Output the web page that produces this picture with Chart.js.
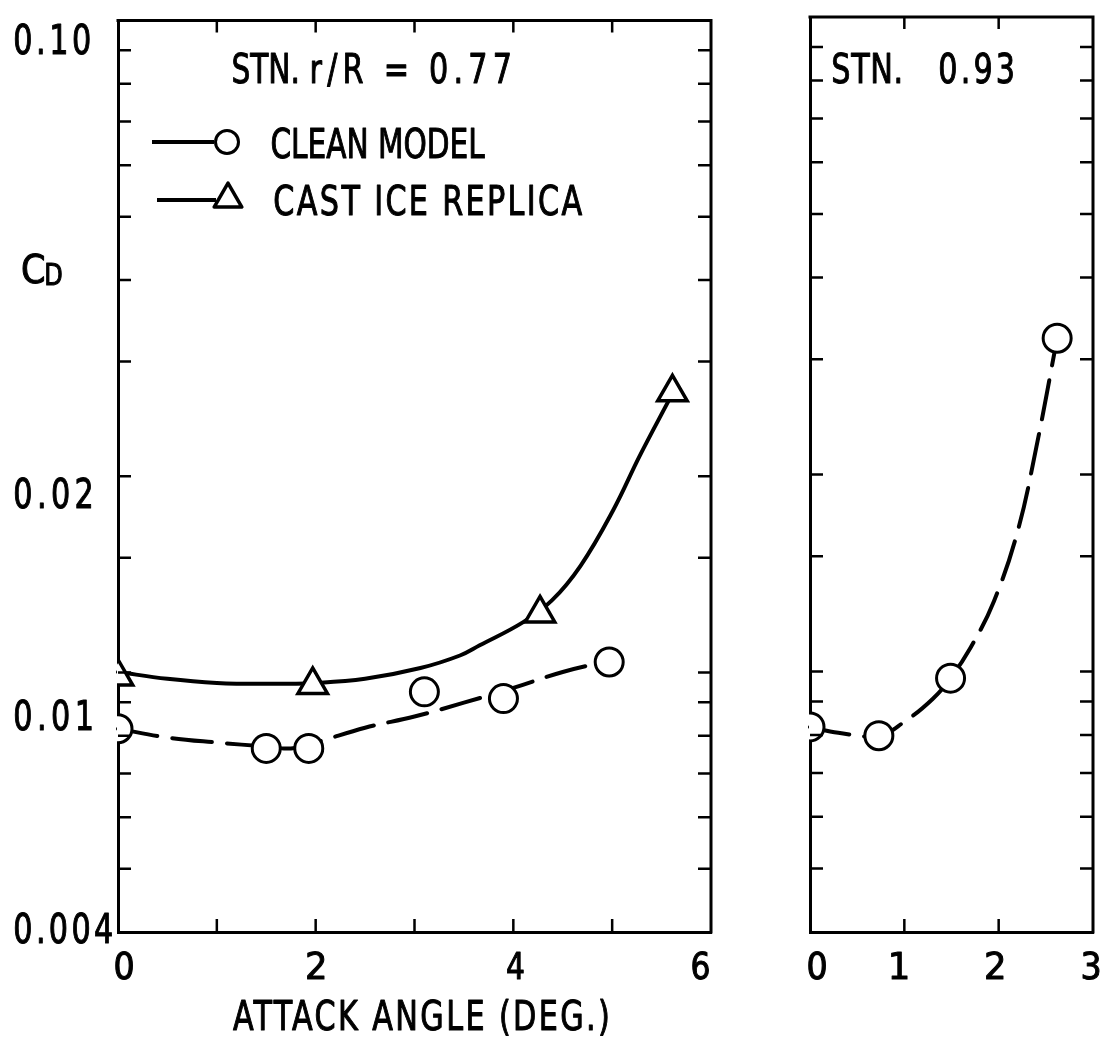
<!DOCTYPE html>
<html>
<head>
<meta charset="utf-8">
<script src="https://cdn.jsdelivr.net/npm/chart.js@4.4.1/dist/chart.umd.min.js"></script>
<style>
  html, body { margin: 0; padding: 0; background: #fff; }
  #wrap { position: relative; width: 1110px; height: 1038px; overflow: hidden; background: #fff; }
  canvas { position: absolute; top: 0; }
  #c77 { left: 0; }
  #c93 { left: 760px; }
</style>
</head>
<body>
<div id="wrap">
  <canvas id="c77" width="760" height="1038"></canvas>
  <canvas id="c93" width="350" height="1038"></canvas>
</div>
<script>
// ---------------- data ----------------
const yTickValues = [0.10, 0.02, 0.01, 0.004];
const yTickLabels = ['0.10', '0.02', '0.01', '0.004'];
const xTickValues77 = [0, 2, 4, 6];
const xTickLabels77 = ['0', '2', '4', '6'];
const xTickValues93 = [0, 1, 2, 3];
const xTickLabels93 = ['0', '1', '2', '3'];

// station r/R = 0.77 : measured points
const angleClean77 = [0, 1.5, 1.93, 3.1, 3.9, 4.97];
const cdClean77    = [0.0082, 0.00765, 0.00765, 0.00934, 0.00912, 0.01038];
const angleIce77   = [0, 1.97, 4.27, 5.61];
const cdIce77      = [0.00986, 0.00957, 0.01232, 0.0269];
// station r/R = 0.77 : faired curves drawn through the points
const fairAngleClean77 = [0, 0.5, 1.0, 1.5, 1.75, 2.0, 2.5, 3.0, 3.5, 4.0, 4.5, 4.97];
const fairCdClean77    = [0.0082, 0.00795, 0.00781, 0.0077, 0.00765, 0.00781, 0.00823, 0.00856, 0.00899, 0.00947, 0.01002, 0.01042];
const fairAngleIce77   = [0, 0.5, 1.0, 1.5, 2.0, 2.5, 3.06, 3.46, 3.66, 4.1, 4.39, 4.68, 5.01, 5.28, 5.58];
const fairCdIce77      = [0.01002, 0.00978, 0.00964, 0.00961, 0.00964, 0.00978, 0.01016, 0.01062, 0.01101, 0.01195, 0.0129, 0.01458, 0.01774, 0.02151, 0.02626];

// station 0.93 : measured points and faired curve
const angleClean93 = [0, 0.73, 1.49, 2.62];
const cdClean93    = [0.00823, 0.00798, 0.00977, 0.0323];
const fairAngle93  = [0, 0.3, 0.73, 1.0, 1.3, 1.49, 1.7, 1.95, 2.2, 2.4, 2.62];
const fairCd93     = [0.00823, 0.00806, 0.00798, 0.00838, 0.00908, 0.00977, 0.01086, 0.01281, 0.01636, 0.02204, 0.0323];

const titleStn77 = ['STN.', 'r/R = 0.77'];
const titleStn93 = ['STN.', '0.93'];
const legendLabels = ['CLEAN MODEL', 'CAST ICE REPLICA'];
const xAxisTitle = 'ATTACK ANGLE (DEG.)';
const yAxisTitle = ['C', 'D'];

// ---------------- helpers ----------------
const FONT = '"DejaVu Sans Condensed", "DejaVu Sans", sans-serif';
const INK = '#000';
const pts = (xs, ys) => xs.map((v, i) => ({ x: v, y: ys[i] }));

// draw real text whose ink spans a given width: narrow glyphs, typewriter-like spacing
function txt(ctx, s, x, y, size, inkW, align) {
  ctx.save();
  ctx.fillStyle = INK;
  ctx.strokeStyle = INK;
  ctx.font = size + 'px ' + FONT;
  ctx.textBaseline = 'alphabetic';
  ctx.textAlign = 'left';
  const hasLS = 'letterSpacing' in ctx;
  if (hasLS) ctx.letterSpacing = '0px';
  const m = ctx.measureText(s);
  const abl = m.actualBoundingBoxLeft || 0;
  const ink = (m.actualBoundingBoxRight || m.width) + abl;
  let sx = 0.82;
  if (ink * sx > inkW || s.length < 2 || !hasLS) {
    sx = inkW / ink;
  } else {
    const gap = (inkW - ink * sx) / (s.length - 1);
    ctx.letterSpacing = (gap / sx).toFixed(2) + 'px';
  }
  const left = align === 'center' ? x - inkW / 2 : x;
  ctx.translate(left + abl * sx, y);
  ctx.scale(sx, 1);
  ctx.lineWidth = 1.0;
  ctx.lineJoin = 'round';
  ctx.fillText(s, 0, 0);
  ctx.strokeText(s, 0, 0);
  ctx.restore();
}

function drawFrameTicks(chart) {
  const { ctx, chartArea: a, scales } = chart;
  const x = scales.x, y = scales.y;
  ctx.save();
  ctx.strokeStyle = INK;
  ctx.lineWidth = 3;
  ctx.beginPath();
  ctx.moveTo(a.left - 1.5, a.top);
  ctx.lineTo(a.right, a.top);
  ctx.lineTo(a.right, a.bottom + 1.5);
  ctx.stroke();
  ctx.lineWidth = 2.5;
  y.ticks.forEach(t => {
    if (t.value <= y.min * 1.0001 || t.value >= y.max * 0.9999) return;
    const py = y.getPixelForValue(t.value);
    ctx.beginPath();
    ctx.moveTo(a.left, py); ctx.lineTo(a.left + 13, py);
    ctx.moveTo(a.right, py); ctx.lineTo(a.right - 13, py);
    ctx.stroke();
  });
  x.ticks.forEach(t => {
    if (t.value <= x.min || t.value >= x.max) return;
    const px = x.getPixelForValue(t.value);
    ctx.beginPath();
    ctx.moveTo(px, a.bottom); ctx.lineTo(px, a.bottom - 13);
    ctx.moveTo(px, a.top); ctx.lineTo(px, a.top + 12);
    ctx.stroke();
  });
  ctx.restore();
}

function drawXLabels(chart, values, labels, nudge) {
  const x = chart.scales.x;
  values.forEach((v, i) => {
    txt(chart.ctx, labels[i], x.getPixelForValue(v) + nudge[i], 979, 37, 17, 'center');
  });
}

function tri(ctx, cx, cy, r) {
  ctx.beginPath();
  for (let k = 0; k < 3; k++) {
    const ang = k * 2 * Math.PI / 3;
    const px = cx + Math.sin(ang) * r, py = cy - Math.cos(ang) * r;
    if (k === 0) ctx.moveTo(px, py); else ctx.lineTo(px, py);
  }
  ctx.closePath();
}

const decor77 = {
  id: 'decor77',
  afterDraw(chart) {
    const ctx = chart.ctx;
    const y = chart.scales.y;
    drawFrameTicks(chart);
    // y tick labels, hand-lettered placement below their ticks
    const shift = [33, 32, 57, 11];
    const widths = [75, 76, 77, 97];
    yTickValues.forEach((v, i) => {
      txt(ctx, yTickLabels[i], 15, y.getPixelForValue(v) + shift[i], 41, widths[i], 'left');
    });
    drawXLabels(chart, xTickValues77, xTickLabels77, [6, 0, 2, -10]);
    // axis titles
    txt(ctx, xAxisTitle, 233, 1030, 41, 375, 'left');
    txt(ctx, yAxisTitle[0], 22, 283, 39, 22, 'left');
    txt(ctx, yAxisTitle[1], 46, 285, 30, 16, 'left');
    // station label
    txt(ctx, titleStn77[0], 233, 83, 41, 64, 'left');
    txt(ctx, titleStn77[1], 312, 83, 41, 198, 'left');
    // legend
    ctx.save();
    ctx.strokeStyle = INK; ctx.fillStyle = '#fff';
    ctx.lineWidth = 4;
    ctx.beginPath(); ctx.moveTo(152, 142); ctx.lineTo(214, 142); ctx.stroke();
    ctx.beginPath(); ctx.moveTo(157, 200); ctx.lineTo(216, 200); ctx.stroke();
    ctx.lineWidth = 3;
    ctx.beginPath(); ctx.arc(227, 142, 11.5, 0, Math.PI * 2); ctx.fill(); ctx.stroke();
    ctx.lineWidth = 3.5; ctx.lineJoin = 'round';
    tri(ctx, 228, 199, 16); ctx.fill(); ctx.stroke();
    ctx.restore();
    txt(ctx, legendLabels[0], 272, 158, 41, 213, 'left');
    txt(ctx, legendLabels[1], 275, 215, 41, 307, 'left');
  }
};

const decor93 = {
  id: 'decor93',
  afterDraw(chart) {
    drawFrameTicks(chart);
    drawXLabels(chart, xTickValues93, xTickLabels93, [7, -5, -4, -2]);
    txt(chart.ctx, titleStn93[0], 73, 83, 41, 67, 'left');
    txt(chart.ctx, titleStn93[1], 180, 83, 41, 73, 'left');
  }
};

function scalesFor(xmax, yWidth) {
  return {
    x: {
      type: 'linear', min: 0, max: xmax, position: 'bottom',
      ticks: { display: false, stepSize: 1 },
      grid: { display: false },
      border: { display: true, color: INK, width: 3 },
      afterFit: s => { s.height = 106; s.paddingLeft = 0; s.paddingRight = 0; }
    },
    y: {
      type: 'logarithmic', min: 0.004, max: 0.1, position: 'left',
      ticks: { display: false },
      grid: { display: false },
      border: { display: true, color: INK, width: 3 },
      afterFit: s => { s.width = yWidth; s.paddingTop = 0; s.paddingBottom = 0; }
    }
  };
}

const circleStyle = {
  showLine: false, pointStyle: 'circle', pointRadius: 14, pointHoverRadius: 14,
  pointBorderWidth: 3, pointBackgroundColor: '#fff', pointBorderColor: INK, clip: 1
};
const triStyle = {
  showLine: false, pointStyle: 'triangle', pointRadius: 17, pointHoverRadius: 17,
  pointBorderWidth: 3.5, pointBackgroundColor: '#fff', pointBorderColor: INK, clip: 1
};
const lineStyle = {
  showLine: true, pointRadius: 0, pointHoverRadius: 0, borderColor: INK, borderWidth: 4,
  tension: 0.4, fill: false, clip: 2, borderCapStyle: 'round'
};

const common = {
  responsive: false, animation: false, events: [],
  plugins: { legend: { display: false }, tooltip: { enabled: false }, title: { display: false } }
};

new Chart(document.getElementById('c77'), {
  type: 'scatter',
  data: {
    datasets: [
      Object.assign({ label: legendLabels[0], data: pts(angleClean77, cdClean77) }, circleStyle),
      Object.assign({ label: legendLabels[1], data: pts(angleIce77, cdIce77) }, triStyle),
      Object.assign({ label: 'faired ' + legendLabels[1], data: pts(fairAngleIce77, fairCdIce77) }, lineStyle),
      Object.assign({ label: 'faired ' + legendLabels[0], data: pts(fairAngleClean77, fairCdClean77), borderDash: [40, 15] }, lineStyle)
    ]
  },
  options: Object.assign({}, common, {
    layout: { padding: { top: 14, right: 49, left: 0, bottom: 0 } },
    scales: scalesFor(6, 118)
  }),
  plugins: [decor77]
});

new Chart(document.getElementById('c93'), {
  type: 'scatter',
  data: {
    datasets: [
      Object.assign({ label: legendLabels[0], data: pts(angleClean93, cdClean93) }, circleStyle),
      Object.assign({ label: 'faired ' + legendLabels[0], data: pts(fairAngle93, fairCd93), borderDash: [40, 15] }, lineStyle)
    ]
  },
  options: Object.assign({}, common, {
    layout: { padding: { top: 14, right: 8, left: 0, bottom: 0 } },
    scales: scalesFor(3, 50)
  }),
  plugins: [decor93]
});
</script>
</body>
</html>
